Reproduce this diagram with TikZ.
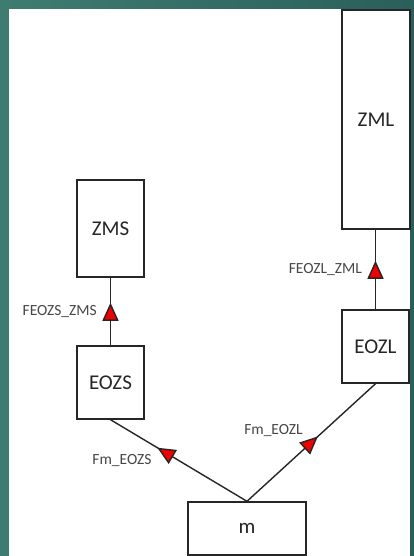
\documentclass[tikz,border=0pt]{standalone}
\usepackage{fontspec}
\setmainfont{Carlito}
\usetikzlibrary{arrows.meta,decorations.markings}

\definecolor{slidebg}{RGB}{62,124,113}
\definecolor{slidebgdark}{RGB}{42,95,91}
\definecolor{ink}{RGB}{38,38,38}
\definecolor{flowred}{RGB}{240,0,0}

\tikzset{
  block/.style={draw=ink, line width=1.4pt, fill=white, text=ink,
    font=\fontsize{21}{24}\selectfont, inner sep=0pt},
  bigblock/.style={block, line width=2.4pt},
  flow/.style={draw=ink, line width=1.4pt, postaction={decorate},
    decoration={markings, mark=at position #1 with
      {\arrow[xshift=9pt]{Triangle[length=18pt,width=16pt,fill=flowred]}}}},
  flow/.default=0.5,
  flowlabel/.style={font=\fontsize{15.5}{18}\selectfont, text=ink!85, inner sep=0pt},
}

\begin{document}
\begin{tikzpicture}[x=1pt,y=-1pt]
    % slide background
    \shade[left color=slidebg, right color=slidebgdark] (0,0) rectangle (414,556);
    \fill[white] (9,9) rectangle (410,556);

    % blocks
    \node[bigblock, minimum width=68, minimum height=219] (zml) at (376,119.5) {ZML};
    \node[bigblock, minimum width=67, minimum height=97] (zms) at (110.5,228.5) {ZMS};
    \node[block, minimum width=67, minimum height=73] (eozs) at (110.5,382.5) {EOZS};
    \node[block, minimum width=67, minimum height=73] (eozl) at (375.5,346.5) {EOZL};
    \node[block, minimum width=118, minimum height=53] (m) at (247,528.5) {m};

    % flows
    \draw[flow] (eozs) -- (zms)
        node[flowlabel, midway, left=13pt] {FEOZS\_ZMS};
    \draw[flow] (eozl.north) -- (eozl |- zml.south)
        node[flowlabel, midway, left=13pt] {FEOZL\_ZML};
    \draw[flow=0.6] (m.north) -- (eozs.south)
        node[flowlabel, pos=0.6, anchor=east, xshift=-13pt, yshift=-8pt] {Fm\_EOZS};
    \draw[flow] (m.north) -- (eozl.south)
        node[flowlabel, pos=0.5, anchor=east, xshift=-8pt, yshift=11.5pt] {Fm\_EOZL};
\end{tikzpicture}
\end{document}
